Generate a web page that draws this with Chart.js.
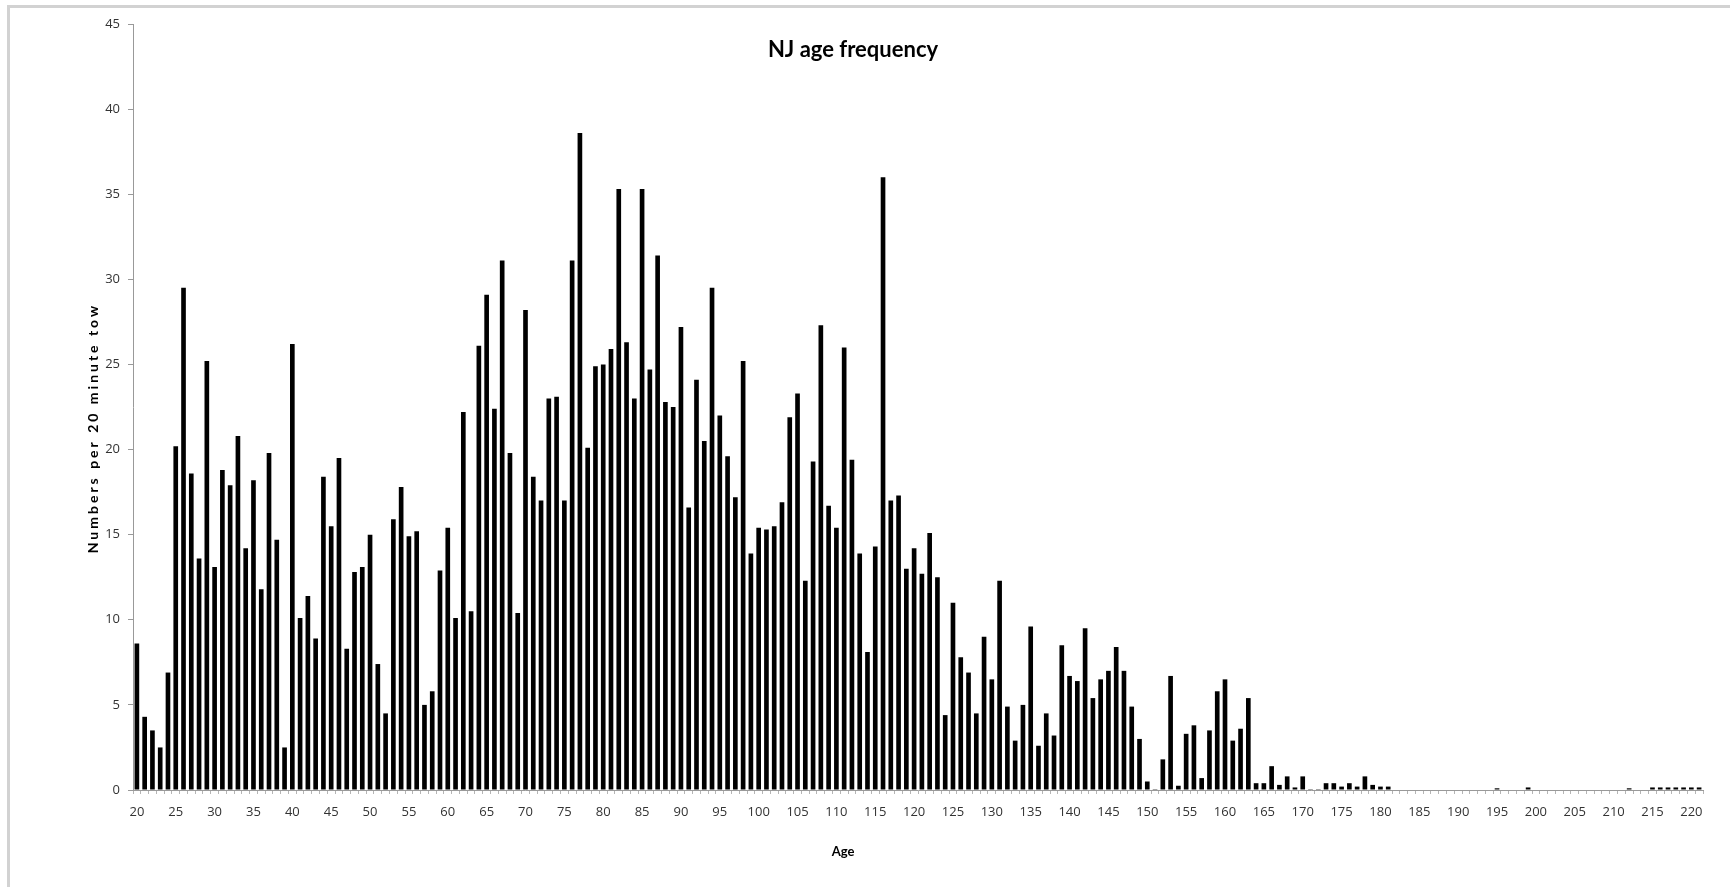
<!DOCTYPE html>
<html>
<head>
<meta charset="utf-8">
<title>NJ age frequency</title>
<script src="https://cdn.jsdelivr.net/npm/chart.js@4.4.0/dist/chart.umd.min.js"></script>
<style>
  html, body { margin: 0; padding: 0; background: #fff; }
  #wrap { position: relative; width: 1730px; height: 887px; overflow: hidden; }
  #frame { position: absolute; left: 7px; top: 5px; width: 1800px; height: 1000px;
           border-left: 3px solid #d2d2d2; border-top: 3px solid #d2d2d2; }
  canvas { position: absolute; left: 0; top: 0; }
</style>
</head>
<body>
<div id="wrap">
  <div id="frame"></div>
  <canvas id="chart" width="1730" height="887"></canvas>
</div>
<script>
// ages 20..221, one bar each
const firstAge = 20
const lastAge = 221
const ages = []
for (let a = firstAge; a <= lastAge; a++) ages.push(a)

// numbers per 20 minute tow
const counts = [
  8.6, 4.3, 3.5, 2.5, 6.9, 20.2, 29.5, 18.6, 13.6, 25.2,      // 20-29
  13.1, 18.8, 17.9, 20.8, 14.2, 18.2, 11.8, 19.8, 14.7, 2.5,  // 30-39
  26.2, 10.1, 11.4, 8.9, 18.4, 15.5, 19.5, 8.3, 12.8, 13.1,   // 40-49
  15.0, 7.4, 4.5, 15.9, 17.8, 14.9, 15.2, 5.0, 5.8, 12.9,     // 50-59
  15.4, 10.1, 22.2, 10.5, 26.1, 29.1, 22.4, 31.1, 19.8, 10.4, // 60-69
  28.2, 18.4, 17.0, 23.0, 23.1, 17.0, 31.1, 38.6, 20.1, 24.9, // 70-79
  25.0, 25.9, 35.3, 26.3, 23.0, 35.3, 24.7, 31.4, 22.8, 22.5, // 80-89
  27.2, 16.6, 24.1, 20.5, 29.5, 22.0, 19.6, 17.2, 25.2, 13.9, // 90-99
  15.4, 15.3, 15.5, 16.9, 21.9, 23.3, 12.3, 19.3, 27.3, 16.7, // 100-109
  15.4, 26.0, 19.4, 13.9, 8.1, 14.3, 36.0, 17.0, 17.3, 13.0,  // 110-119
  14.2, 12.7, 15.1, 12.5, 4.4, 11.0, 7.8, 6.9, 4.5, 9.0,      // 120-129
  6.5, 12.3, 4.9, 2.9, 5.0, 9.6, 2.6, 4.5, 3.2, 8.5,          // 130-139
  6.7, 6.4, 9.5, 5.4, 6.5, 7.0, 8.4, 7.0, 4.9, 3.0,           // 140-149
  0.5, 0.05, 1.8, 6.7, 0.25, 3.3, 3.8, 0.7, 3.5, 5.8,         // 150-159
  6.5, 2.9, 3.6, 5.4, 0.4, 0.4, 1.4, 0.3, 0.8, 0.15,          // 160-169
  0.8, 0.05, 0.05, 0.4, 0.4, 0.2, 0.4, 0.2, 0.8, 0.3,         // 170-179
  0.2, 0.2, 0, 0, 0, 0, 0, 0, 0, 0,                           // 180-189
  0, 0, 0, 0, 0, 0.1, 0, 0, 0, 0.15,                          // 190-199
  0, 0, 0, 0, 0, 0, 0, 0, 0, 0,                               // 200-209
  0, 0, 0.1, 0, 0, 0.15, 0.15, 0.15, 0.15, 0.15,              // 210-219
  0.15, 0.15                                                  // 220-221
]

const xTickLabels = [20, 25, 30, 35, 40, 45, 50, 55, 60, 65, 70, 75, 80, 85, 90, 95, 100,
  105, 110, 115, 120, 125, 130, 135, 140, 145, 150, 155, 160, 165, 170, 175, 180, 185,
  190, 195, 200, 205, 210, 215, 220]
const yMax = 45
const yStep = 5

const chartTitle = 'NJ age frequency'
const xTitle = 'Age'
const yTitle = 'Numbers per 20 minute tow'

const tickFont = { family: 'Open Sans', size: 13 }
const tickColor = '#333'

// Excel-style titles sit over the plot, so they are drawn here instead of in the layout
const titlesPlugin = {
  id: 'titles',
  afterDraw(chart) {
    const ctx = chart.ctx
    ctx.save()
    ctx.fillStyle = '#000'
    ctx.textAlign = 'center'
    ctx.textBaseline = 'alphabetic'
    ctx.font = 'bold 22px Lato'
    ctx.fillText(chartTitle, 853, 57)

    ctx.font = 'bold 13px Lato'
    ctx.fillText(xTitle, 843, 856)

    ctx.translate(93, 428)
    ctx.rotate(-Math.PI / 2)
    ctx.letterSpacing = '3px'
    ctx.font = 'bold 14px Lato'
    ctx.textBaseline = 'middle'
    ctx.fillText(yTitle, 0, 0)
    ctx.restore()
  }
}

new Chart(document.getElementById('chart'), {
  type: 'bar',
  data: {
    labels: ages,
    datasets: [{
      label: 'NJ',
      data: counts,
      backgroundColor: '#000',
      borderWidth: 0,
      barPercentage: 0.6,
      categoryPercentage: 1.0
    }]
  },
  options: {
    responsive: false,
    animation: false,
    devicePixelRatio: 1,
    layout: { padding: { left: 73, right: 27, top: 24, bottom: 37 } },
    plugins: {
      legend: { display: false },
      tooltip: { enabled: false },
      title: { display: false }
    },
    scales: {
      x: {
        type: 'category',
        offset: true,
        grid: { drawOnChartArea: false, drawTicks: true, tickLength: 4, color: '#b5b5b5', offset: true },
        border: { color: '#999' },
        ticks: {
          autoSkip: false,
          maxRotation: 0,
          minRotation: 0,
          padding: 10,
          font: tickFont,
          color: tickColor,
          callback: (val, i) => xTickLabels.includes(ages[i]) ? String(ages[i]) : ''
        },
        afterFit: (s) => { s.height = 60 }
      },
      y: {
        min: 0,
        max: yMax,
        grid: { drawOnChartArea: false, drawTicks: true, tickLength: 5, color: '#999' },
        border: { color: '#999' },
        ticks: { stepSize: yStep, padding: 8, font: tickFont, color: tickColor },
        afterFit: (s) => { s.width = 60 }
      }
    }
  },
  plugins: [titlesPlugin]
})
</script>
</body>
</html>
